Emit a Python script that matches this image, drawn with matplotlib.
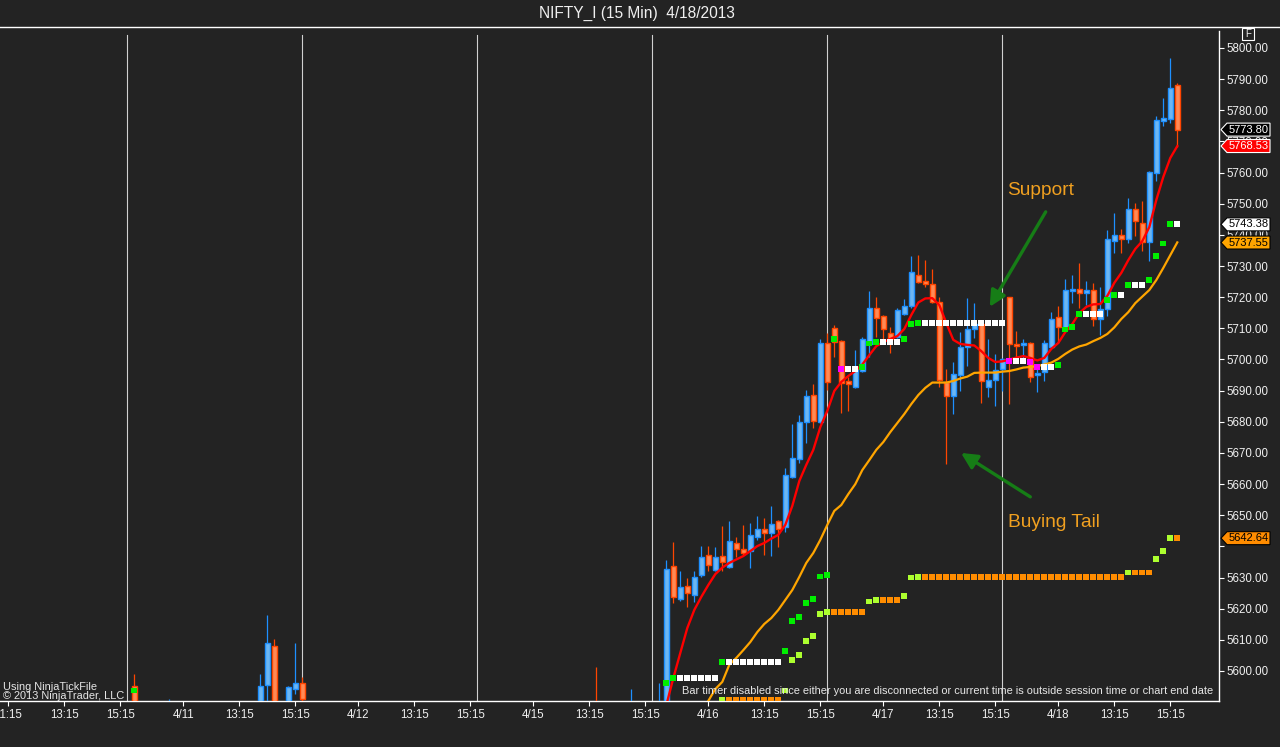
import matplotlib
matplotlib.use('Agg')
import matplotlib.pyplot as plt
import matplotlib.transforms as mtransforms
from matplotlib.patches import Polygon, Rectangle

plt.rcParams['font.family'] = ['Liberation Sans', 'DejaVu Sans']

# ---------------- data ----------------
title = 'NIFTY_I (15 Min)  4/18/2013'

bar_idx = [19, 24, 37, 38, 39, 41, 42, 43, 85, 90, 94, 95,
           96, 97, 98, 99, 100, 101, 102, 103, 104, 105, 106, 107, 108, 109, 110,
           111, 112, 113, 114, 115, 116, 117, 118,
           119, 120, 121, 122, 123, 124, 125, 126, 127, 128, 129, 130, 131, 132,
           133, 134, 135, 136, 137, 138, 139, 140, 141, 142, 143,
           144, 145, 146, 147, 148, 149, 150, 151, 152, 153, 154, 155, 156, 157,
           158, 159, 160, 161, 162, 163, 164, 165, 166, 167, 168]
opens = [5595.2, 5586.0, 5585.0, 5595.4, 5608.0, 5585.0, 5594.3, 5596.0, 5585.0, 5580.0, 5578.0, 5584.0,
         5633.7, 5623.0, 5627.3, 5624.3, 5630.7, 5637.1, 5632.4, 5636.9, 5633.5, 5641.0, 5639.1, 5638.6, 5643.1, 5645.5, 5644.4,
         5648.1, 5646.3, 5662.2, 5667.9, 5680.0, 5688.5, 5680.0, 5705.2,
         5710.0, 5705.9, 5693.1, 5691.1, 5696.4, 5704.9, 5716.6, 5714.0, 5708.4, 5707.1, 5714.5, 5717.2, 5727.0, 5725.1,
         5724.1, 5718.6, 5692.9, 5688.3, 5694.9, 5703.9, 5709.7, 5711.4, 5691.3, 5693.3, 5696.9,
         5720.0, 5704.9, 5704.8, 5705.2, 5694.9, 5695.9, 5704.1, 5713.5, 5710.2, 5722.1, 5722.5, 5721.4, 5722.2, 5712.9,
         5716.1, 5738.0, 5740.0, 5738.6, 5748.2, 5743.7, 5737.8, 5760.0, 5776.7, 5777.1, 5788.1]
highs = [5599.0, 5591.0, 5599.0, 5618.0, 5610.2, 5595.3, 5608.9, 5598.2, 5601.4, 5594.1, 5596.3, 5635.6,
         5641.4, 5632.1, 5629.9, 5632.1, 5640.1, 5640.1, 5639.9, 5646.5, 5648.2, 5643.1, 5646.9, 5647.6, 5649.8, 5649.1, 5653.0,
         5648.5, 5665.2, 5679.2, 5682.1, 5690.2, 5692.1, 5706.5, 5708.4,
         5711.1, 5706.3, 5694.5, 5703.0, 5707.2, 5722.0, 5720.2, 5714.3, 5710.3, 5716.5, 5719.4, 5733.3, 5733.5, 5731.9,
         5728.9, 5720.2, 5696.9, 5699.1, 5708.9, 5719.6, 5718.0, 5711.8, 5706.6, 5701.8, 5700.5,
         5720.2, 5709.2, 5706.6, 5705.5, 5697.7, 5706.3, 5715.2, 5717.2, 5725.8, 5727.1, 5731.1, 5725.2, 5724.7, 5723.4,
         5741.6, 5747.1, 5741.9, 5751.9, 5750.1, 5750.9, 5760.5, 5778.2, 5784.0, 5796.7, 5788.7]
lows = [5580.0, 5584.0, 5580.0, 5590.5, 5585.0, 5582.0, 5592.5, 5588.0, 5575.0, 5575.0, 5575.0, 5580.0,
        5621.9, 5622.5, 5620.6, 5622.0, 5630.1, 5632.0, 5632.0, 5632.2, 5633.0, 5636.7, 5637.2, 5633.0, 5642.1, 5637.2, 5636.9,
        5639.9, 5644.7, 5662.0, 5666.9, 5673.1, 5677.9, 5679.5, 5690.2,
        5700.7, 5682.7, 5683.6, 5690.8, 5696.0, 5700.9, 5707.3, 5706.5, 5702.0, 5706.8, 5714.3, 5716.4, 5724.5, 5723.2,
        5718.0, 5691.3, 5666.4, 5682.4, 5690.0, 5698.0, 5706.8, 5686.0, 5688.1, 5685.2, 5690.0,
        5685.6, 5698.8, 5698.8, 5692.9, 5689.7, 5693.2, 5703.8, 5705.4, 5709.8, 5718.0, 5716.4, 5717.5, 5710.8, 5707.9,
        5714.0, 5734.3, 5734.3, 5737.3, 5739.7, 5734.9, 5731.6, 5757.4, 5775.1, 5776.0, 5768.1]
closes = [5585.0, 5588.0, 5595.2, 5608.9, 5588.0, 5594.8, 5596.0, 5590.9, 5580.0, 5585.0, 5586.0, 5632.6,
          5623.9, 5627.1, 5624.9, 5630.1, 5636.5, 5633.9, 5636.5, 5635.1, 5641.7, 5639.1, 5638.0, 5643.6, 5645.5, 5644.2, 5647.2,
          5645.7, 5662.9, 5668.3, 5679.8, 5688.2, 5680.4, 5705.2, 5692.9,
          5705.7, 5692.4, 5692.0, 5697.5, 5706.5, 5716.6, 5713.2, 5709.7, 5706.5, 5715.9, 5717.2, 5728.0, 5724.8, 5724.1,
          5718.6, 5693.4, 5688.3, 5695.3, 5703.9, 5709.7, 5711.4, 5693.1, 5693.4, 5696.5, 5700.1,
          5704.9, 5704.2, 5705.2, 5694.3, 5695.6, 5705.2, 5712.9, 5710.5, 5722.2, 5722.6, 5721.4, 5722.2, 5712.9, 5716.1,
          5738.6, 5740.0, 5738.6, 5748.2, 5744.5, 5737.8, 5760.1, 5776.9, 5777.4, 5787.1, 5773.8]

ema_fast_idx = list(range(93, 169))
ema_fast = [5582.0, 5584.5, 5589.0,
            5597.7, 5605.8, 5613.8, 5619.6, 5623.8, 5627.6, 5631.1, 5633.2, 5634.7, 5635.8,
            5636.9, 5638.5, 5640.1, 5641.1, 5642.5, 5643.7, 5646.9, 5653.0, 5661.0, 5666.2,
            5671.0, 5678.3, 5683.5, 5689.9, 5692.8, 5694.7, 5696.3, 5698.4, 5701.4, 5704.3,
            5705.6, 5706.6, 5707.5, 5709.8, 5714.3, 5718.3, 5719.6, 5719.7, 5717.5, 5711.7,
            5706.3, 5705.0, 5704.7, 5704.5, 5702.7, 5700.5, 5699.2, 5699.4, 5700.0, 5700.6,
            5701.1, 5700.5, 5699.7, 5700.5, 5703.4, 5705.3, 5708.8, 5711.4, 5714.9, 5716.9,
            5717.7, 5717.8, 5720.4, 5724.6, 5727.8, 5731.9, 5735.5, 5738.0, 5742.5, 5751.2,
            5758.6, 5764.7, 5768.5]
ema_slow_idx = list(range(98, 169))
ema_slow = [5582.0, 5584.5, 5587.2, 5590.4, 5594.2, 5596.5, 5602.0, 5604.2, 5606.7, 5609.3,
            5612.5, 5615.1, 5617.0, 5619.6, 5622.8, 5626.0, 5630.2, 5634.7, 5637.9, 5642.1,
            5646.9, 5651.4, 5653.3, 5656.8, 5660.0, 5664.5, 5667.7, 5671.0, 5673.5, 5676.7,
            5679.6, 5682.5, 5685.7, 5688.6, 5690.9, 5692.6, 5692.6, 5692.6, 5693.1, 5693.9,
            5694.5, 5695.7, 5695.8, 5695.8, 5695.8, 5696.1, 5696.3, 5696.8, 5697.4, 5697.6,
            5697.9, 5698.4, 5699.0, 5700.2, 5701.8, 5703.2, 5704.2, 5704.8, 5705.9, 5706.9,
            5708.2, 5710.3, 5713.0, 5715.2, 5718.1, 5720.2, 5722.3, 5725.5, 5729.4, 5733.5,
            5737.6]

# upper trailing-stop dots: G = new level, W = unchanged, M = lowered
upper_idx = [19, 95, 96, 97, 98, 99, 100, 101, 102, 103, 104, 105, 106, 107, 108, 109, 110, 111,
             112, 113, 114, 115, 116, 117, 118, 119, 120, 121, 122, 123, 124, 125, 126, 127, 128,
             129, 130, 131, 132, 133, 134, 135, 136, 137, 138, 139, 140, 141, 142, 143,
             144, 145, 146, 147, 148, 149, 150, 151, 152, 153, 154, 155, 156, 157, 158, 159, 160,
             161, 162, 163, 164, 165, 166, 167, 168]
upper_val = [5593.7, 5596.1, 5597.8, 5597.8, 5597.8, 5597.8, 5597.8, 5597.8, 5597.8, 5603.0,
             5603.0, 5603.0, 5603.0, 5603.0, 5603.0, 5603.0, 5603.0, 5603.0,
             5606.5, 5616.1, 5617.4, 5621.9, 5623.2, 5630.3, 5630.9, 5706.5, 5697.0, 5697.0, 5697.0,
             5697.5, 5705.1, 5705.7, 5705.7, 5705.7, 5705.7,
             5706.6, 5711.5, 5711.8, 5711.8, 5711.8, 5711.8, 5711.8, 5711.8, 5711.8, 5711.8, 5711.8,
             5711.8, 5711.8, 5711.8, 5711.8,
             5699.6, 5699.6, 5699.6, 5699.3, 5697.6, 5697.6, 5697.6, 5698.2, 5709.6, 5710.4, 5714.7,
             5714.7, 5714.7, 5714.7, 5719.1, 5720.8, 5720.8,
             5723.9, 5723.9, 5723.9, 5725.5, 5733.2, 5737.2, 5743.5, 5743.4]
upper_kind = ['G', 'G', 'G', 'W', 'W', 'W', 'W', 'W', 'W', 'G', 'W', 'W', 'W', 'W', 'W', 'W', 'W', 'W',
              'G', 'G', 'G', 'G', 'G', 'G', 'G', 'G', 'M', 'W', 'W', 'G', 'G', 'G', 'W', 'W', 'W',
              'G', 'G', 'G', 'W', 'W', 'W', 'W', 'W', 'W', 'W', 'W', 'W', 'W', 'W', 'W',
              'M', 'W', 'W', 'M', 'M', 'W', 'W', 'G', 'G', 'G', 'G', 'W', 'W', 'W', 'G', 'G', 'W',
              'G', 'W', 'W', 'G', 'G', 'G', 'G', 'W']

# lower trailing-stop dots: L = new level, O = unchanged
lower_idx = [103, 104, 105, 106, 107, 108, 109, 110, 111, 112, 113, 114, 115, 116, 117, 118,
             119, 120, 121, 122, 123, 124, 125, 126, 127, 128, 129, 130, 131,
             132, 133, 134, 135, 136, 137, 138, 139, 140, 141, 142, 143, 144, 145, 146,
             147, 148, 149, 150, 151, 152, 153, 154, 155, 156, 157, 158, 159, 160,
             161, 162, 163, 164, 165, 166, 167, 168]
lower_val = [5590.8, 5590.8, 5590.8, 5590.8, 5590.8, 5590.8, 5590.8, 5590.8, 5590.8,
             5593.7, 5603.5, 5605.2, 5609.7, 5611.3, 5618.3, 5618.9,
             5619.0, 5619.0, 5619.0, 5619.0, 5619.0, 5622.3, 5622.8, 5622.8, 5622.8, 5622.8,
             5624.1, 5630.0, 5630.2,
             5630.2, 5630.2, 5630.2, 5630.2, 5630.2, 5630.2, 5630.2, 5630.2, 5630.2, 5630.2,
             5630.2, 5630.2, 5630.2, 5630.2, 5630.2,
             5630.2, 5630.2, 5630.2, 5630.2, 5630.2, 5630.2, 5630.2, 5630.2, 5630.2, 5630.2,
             5630.2, 5630.2, 5630.2, 5630.2,
             5631.6, 5631.6, 5631.6, 5631.6, 5636.0, 5638.5, 5642.8, 5642.6]
lower_kind = ['L', 'O', 'O', 'O', 'O', 'O', 'O', 'O', 'O',
              'L', 'L', 'L', 'L', 'L', 'L', 'L',
              'O', 'O', 'O', 'O', 'O', 'L', 'L', 'O', 'O', 'O', 'L', 'L', 'L',
              'O', 'O', 'O', 'O', 'O', 'O', 'O', 'O', 'O', 'O', 'O', 'O', 'O', 'O', 'O',
              'O', 'O', 'O', 'O', 'O', 'O', 'O', 'O', 'O', 'O', 'O', 'O', 'O', 'O',
              'L', 'O', 'O', 'O', 'L', 'L', 'L', 'O']

session_breaks = [18, 43, 68, 93, 118, 143]
xtick_pos = [1, 9, 17, 26, 34, 42, 51, 59, 67, 76, 84, 92, 101, 109, 117, 126, 134, 142, 151, 159, 167]
xtick_lab = ['11:15', '13:15', '15:15', '4/11', '13:15', '15:15', '4/12', '13:15', '15:15',
             '4/15', '13:15', '15:15', '4/16', '13:15', '15:15', '4/17', '13:15', '15:15',
             '4/18', '13:15', '15:15']
ytick_vals = [5600, 5610, 5620, 5630, 5640, 5650, 5660, 5670, 5680, 5690, 5700,
              5710, 5720, 5730, 5740, 5750, 5760, 5770, 5780, 5790, 5800]
ytick_hidden = [5640]   # label hidden behind the 5642.64 tag in the reference

# right-side price tags: value, fill, edge, text colour
tag_vals = [5773.80, 5768.53, 5743.38, 5737.55, 5642.64]
tag_fill = ['#000000', '#ff0000', '#ffffff', '#ffa500', '#ff8c00']
tag_edge = ['#ffffff', '#ffffff', '#000000', '#000000', '#000000']
tag_text = ['#ffffff', '#ffffff', '#000000', '#000000', '#000000']

# annotations (bar index, price)
support_text_pos = (148.4, 5754.4)
support_arrow = ((149.2, 5747.4), (141.2, 5716.9))
tail_text_pos = (150.4, 5647.8)
tail_arrow = ((147.0, 5655.9), (137.1, 5670.0))

# ---------------- style ----------------
W, H = 1280, 747
BG = '#232323'
FG = '#f0f0f0'
UP_FILL, UP_EDGE = '#6cb6f2', '#1e90ff'
DN_FILL, DN_EDGE = '#ff8a55', '#ff4500'
UPPER_COL = {'G': '#00ee00', 'W': '#ffffff', 'M': '#ff00ff'}
LOWER_COL = {'L': '#adff2f', 'O': '#ff8c00'}


def fx(x):
    return x / W


def fy(y):
    return 1 - y / H


fig = plt.figure(figsize=(W / 100, H / 100), dpi=100, facecolor=BG)
ax = fig.add_axes([0, fy(701), fx(1219), fy(31) - fy(701)])
ax.set_facecolor(BG)

ax.set_xlim((0 - 1.3) / 7, (1219 - 1.3) / 7)
ax.set_ylim(5800 - (701 - 48) / 3.115, 5800 + (48 - 31) / 3.115)

# session separators
for s in session_breaks:
    ax.axvline(s, ymin=0, ymax=(701 - 35) / (701 - 31), color='#d0d0d0', lw=0.8, zorder=1)

# candles
up = [c >= o for o, c in zip(opens, closes)]
edge_cols = [UP_EDGE if u else DN_EDGE for u in up]
fill_cols = [UP_FILL if u else DN_FILL for u in up]
ax.vlines(bar_idx, lows, highs, colors=edge_cols, lw=0.9, zorder=3)
bottoms = [min(o, c) for o, c in zip(opens, closes)]
heights = [max(abs(c - o), 0.4) for o, c in zip(opens, closes)]
ax.bar(bar_idx, heights, bottom=bottoms, width=0.68, color=fill_cols,
       edgecolor=edge_cols, linewidth=1.0, zorder=4)

# moving averages
ax.plot(ema_slow_idx, ema_slow, color='#ffa500', lw=1.6, zorder=5, solid_joinstyle='round')
ax.plot(ema_fast_idx, ema_fast, color='#ff0000', lw=1.7, zorder=5, solid_joinstyle='round')

# trailing-stop dots
ax.scatter(upper_idx, upper_val, marker='s', s=17, c=[UPPER_COL[k] for k in upper_kind],
           linewidths=0, zorder=6)
ax.scatter(lower_idx, lower_val, marker='s', s=17, c=[LOWER_COL[k] for k in lower_kind],
           linewidths=0, zorder=6)

# axes styling
for sp in ['top', 'left']:
    ax.spines[sp].set_visible(False)
for sp in ['bottom', 'right']:
    ax.spines[sp].set_color('#ffffff')
    ax.spines[sp].set_linewidth(1.0)
ax.yaxis.tick_right()
ax.set_yticks(ytick_vals)
ax.set_yticklabels(['' if v in ytick_hidden else '%.2f' % v for v in ytick_vals])
ax.set_xticks(xtick_pos)
ax.set_xticklabels(xtick_lab)
ax.tick_params(axis='y', colors='#ffffff', labelcolor=FG, labelsize=8.3, length=3.6, width=0.8,
               direction='out', pad=1.5)
ax.tick_params(axis='x', colors='#ffffff', labelcolor=FG, labelsize=8.3, length=3.6, width=0.8,
               direction='out', pad=2.5)

# price tags on the right
blend = mtransforms.blended_transform_factory(fig.transFigure, ax.transData)
hh = 6.5 / 3.115
for v, fc, ec, tc in zip(tag_vals, tag_fill, tag_edge, tag_text):
    poly = Polygon([(fx(1221), v), (fx(1227), v + hh), (fx(1270), v + hh),
                    (fx(1270), v - hh), (fx(1227), v - hh)], closed=True,
                   transform=blend, facecolor=fc, edgecolor=ec, lw=0.8, clip_on=False, zorder=10)
    ax.add_patch(poly)
    ax.text(fx(1248.5), v, '%.2f' % v, transform=blend, ha='center', va='center',
            fontsize=8.0, color=tc, clip_on=False, zorder=11)

# annotations
ax.text(*support_text_pos, 'Support', color='#f0a020', fontsize=13.8, ha='center', va='center', zorder=8)
ax.annotate('', xy=support_arrow[1], xytext=support_arrow[0],
            arrowprops=dict(arrowstyle='-|>', color='#167d16', lw=2.4, mutation_scale=24,
                            shrinkA=0, shrinkB=0), zorder=8)
ax.text(*tail_text_pos, 'Buying Tail', color='#f0a020', fontsize=13.8, ha='center', va='center', zorder=8)
ax.annotate('', xy=tail_arrow[1], xytext=tail_arrow[0],
            arrowprops=dict(arrowstyle='-|>', color='#167d16', lw=2.4, mutation_scale=24,
                            shrinkA=0, shrinkB=0), zorder=8)

# title and frame
fig.text(fx(637), fy(13), title, ha='center', va='center', fontsize=11.2, color=FG)
fig.add_artist(plt.Line2D([0, 1], [fy(26.7), fy(26.7)], transform=fig.transFigure,
                          color='#ffffff', lw=1.0))
fig.add_artist(Rectangle((fx(1242), fy(40)), fx(12), fy(28) - fy(40), transform=fig.transFigure,
                         facecolor=BG, edgecolor='#ffffff', lw=0.8))
fig.text(fx(1248), fy(34), 'F', ha='center', va='center', fontsize=7, color=FG)

# footer texts
fig.text(fx(3), fy(690), 'Using NinjaTickFile', ha='left', va='baseline', fontsize=7.9, color='#e6e6e6')
fig.text(fx(3), fy(699), '\u00a9 2013 NinjaTrader, LLC', ha='left', va='baseline', fontsize=7.9,
         color='#e6e6e6')
fig.text(fx(1213), fy(694),
         'Bar timer disabled since either you are disconnected or current time is outside session time or chart end date',
         ha='right', va='baseline', fontsize=7.95, color='#e6e6e6')

fig.savefig('out.png', dpi=100, facecolor=BG)
